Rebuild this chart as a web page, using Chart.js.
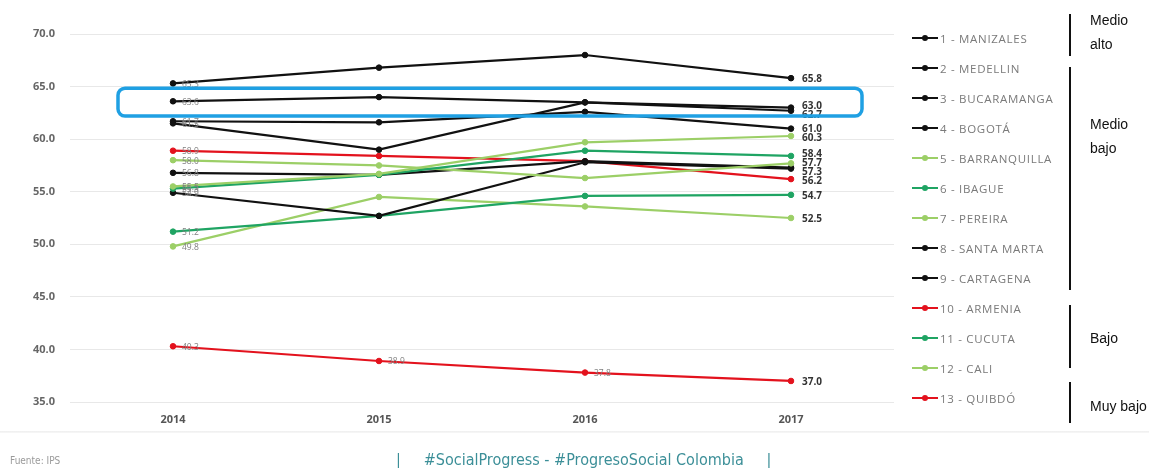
<!DOCTYPE html>
<html>
<head>
<meta charset="utf-8">
<script src="https://cdn.jsdelivr.net/npm/chart.js@4"></script>
<style>
  html, body { margin:0; padding:0; background:#fff; }
  #wrap { position:relative; width:1149px; height:468px; overflow:hidden; font-family:"Open Sans", sans-serif; }
  #chartBox { position:absolute; left:0; top:0; width:1149px; height:468px; }
  .leg { position:absolute; left:912px; height:14px; display:flex; align-items:center; font-family:"Open Sans", sans-serif; font-size:11.5px; color:#7a7a7a; letter-spacing:0.7px; white-space:nowrap; }
  .sym { position:relative; width:26px; height:12px; margin-right:2px; }
  .sym .ln { position:absolute; left:0; top:5px; width:26px; height:2px; }
  .sym .dt { position:absolute; left:10px; top:3px; width:6px; height:6px; border-radius:50%; }
  .bar { position:absolute; left:1069px; width:2px; background:#111; }
  .grp { position:absolute; left:1090px; font-family:"Liberation Sans", Arial, sans-serif; font-size:14px; line-height:24px; color:#111; white-space:nowrap; }
  #src { position:absolute; left:10px; top:455px; font-family:"Liberation Sans Narrow","DejaVu Sans Condensed",sans-serif; font-stretch:condensed; font-size:10px; color:#9a9a9a; }
  #tag { position:absolute; left:396px; top:450px; font-family:"Liberation Sans Narrow","DejaVu Sans Condensed",sans-serif; font-stretch:condensed; font-size:16px; color:#3c8f98; white-space:pre; }
  #sep { position:absolute; left:0; top:431px; width:1149px; height:2px; background:linear-gradient(#eee,#f7f7f7); }
</style>
</head>
<body>
<div id="wrap">
  <div id="chartBox"><canvas id="c"></canvas></div>
  <div id="sep"></div>
  <div id="legend"></div>
  <div class="bar" style="top:14px;height:42px"></div>
  <div class="bar" style="top:67px;height:223px"></div>
  <div class="bar" style="top:305px;height:63px"></div>
  <div class="bar" style="top:382px;height:41px"></div>
  <div class="grp" style="top:8px">Medio<br>alto</div>
  <div class="grp" style="top:112px">Medio<br>bajo</div>
  <div class="grp" style="top:326px">Bajo</div>
  <div class="grp" style="top:394px">Muy bajo</div>
  <div id="src">Fuente: IPS</div>
  <div id="tag">|     #SocialProgress - #ProgresoSocial Colombia     |</div>
</div>
<script>
const years = ['2014', '2015', '2016', '2017'];
const cities = ['1 - MANIZALES','2 - MEDELLIN','3 - BUCARAMANGA','4 - BOGOTÁ','5 - BARRANQUILLA','6 - IBAGUE','7 - PEREIRA','8 - SANTA MARTA','9 - CARTAGENA','10 - ARMENIA','11 - CUCUTA','12 - CALI','13 - QUIBDÓ'];
const manizales    = [65.3, 66.8, 68.0, 65.8];
const medellin     = [63.6, 64.0, 63.5, 63.0];
const bucaramanga  = [61.5, 59.0, 63.5, 62.7];
const bogota       = [61.7, 61.6, 62.6, 61.0];
const barranquilla = [55.5, 56.7, 59.7, 60.3];
const ibague       = [55.3, 56.6, 58.9, 58.4];
const pereira      = [58.0, 57.5, 56.3, 57.7];
const santaMarta   = [56.8, 56.6, 57.9, 57.3];
const cartagena    = [54.9, 52.7, 57.8, 57.2];
const armenia      = [58.9, 58.4, 57.9, 56.2];
const cucuta       = [51.2, 52.7, 54.6, 54.7];
const cali         = [49.8, 54.5, 53.6, 52.5];
const quibdo       = [40.3, 38.9, 37.8, 37.0];
const yTicks = [35, 40, 45, 50, 55, 60, 65, 70];

const seriesValues = [manizales, medellin, bucaramanga, bogota, barranquilla, ibague, pereira, santaMarta, cartagena, armenia, cucuta, cali, quibdo];

const BLACK = '#111111', LGREEN = '#9ccf67', GREEN = '#1fa463', RED = '#e3121d';
const seriesColors = [BLACK, BLACK, BLACK, BLACK, LGREEN, GREEN, LGREEN, BLACK, BLACK, RED, GREEN, LGREEN, RED];

const legEl = document.getElementById('legend');
cities.forEach((name, i) => {
  const d = document.createElement('div');
  d.className = 'leg';
  d.style.top = (31 + i * 30) + 'px';
  d.innerHTML = '<div class="sym"><div class="ln" style="background:' + seriesColors[i] + '"></div><div class="dt" style="background:' + seriesColors[i] + '"></div></div>' + name;
  legEl.appendChild(d);
});

const datasets = seriesValues.map((vals, i) => ({
  label: cities[i],
  data: vals,
  borderColor: seriesColors[i],
  backgroundColor: seriesColors[i],
  pointBackgroundColor: seriesColors[i],
  pointBorderColor: seriesColors[i],
  borderWidth: 2.2,
  pointRadius: 2.8,
  pointBorderWidth: 1,
  tension: 0
}));

const labelPlugin = {
  id: 'valueLabels',
  afterDatasetsDraw(chart) {
    const ctx = chart.ctx;
    const n = chart.data.datasets.length;
    ctx.save();
    ctx.font = '8.5px "Open Sans", sans-serif';
    ctx.fillStyle = '#808080';
    ctx.textAlign = 'left';
    ctx.textBaseline = 'middle';
    for (let d = 0; d < n; d++) {
      const meta = chart.getDatasetMeta(d);
      const idxs = d === n - 1 ? [0, 1, 2] : [0];
      idxs.forEach(k => {
        const p = meta.data[k];
        ctx.fillText(chart.data.datasets[d].data[k].toFixed(1), p.x + 9, p.y + 1);
      });
    }
    const items = [];
    for (let d = 0; d < n; d++) {
      if (d === 8) continue; // overlapped in original
      const meta = chart.getDatasetMeta(d);
      const p = meta.data[3];
      items.push({ y: p.y, x: p.x, t: chart.data.datasets[d].data[3].toFixed(1) });
    }
    items.sort((a, b) => a.y - b.y);
    const gap = 9;
    for (let it = 0; it < 60; it++) {
      for (let i = 1; i < items.length; i++) {
        const ov = gap - (items[i].y - items[i - 1].y);
        if (ov > 0) { items[i].y += ov / 2; items[i - 1].y -= ov / 2; }
      }
    }
    ctx.font = 'bold 10px "Open Sans", sans-serif';
    ctx.fillStyle = '#333';
    items.forEach(o => ctx.fillText(o.t, o.x + 11, o.y + 1));
    const xs = chart.scales.x, ys = chart.scales.y;
    const x0 = xs.getPixelForValue(0) - 55, x1 = xs.getPixelForValue(3) + 71;
    const y0 = ys.getPixelForValue(64.85), y1 = ys.getPixelForValue(62.2);
    ctx.strokeStyle = '#1fa0e3';
    ctx.lineWidth = 3.5;
    ctx.beginPath();
    ctx.roundRect(x0, y0, x1 - x0, y1 - y0, 7);
    ctx.stroke();
    ctx.restore();
  }
};

new Chart(document.getElementById('c'), {
  type: 'line',
  data: { labels: years, datasets },
  options: {
    responsive: true,
    maintainAspectRatio: false,
    animation: false,
    layout: { padding: { top: 34, right: 255, bottom: 36, left: 0 } },
    plugins: { legend: { display: false }, tooltip: { enabled: false } },
    scales: {
      x: {
        offset: true,
        grid: { display: false, drawTicks: false },
        border: { display: false },
        ticks: { padding: 11, color: '#555', font: { family: '"Open Sans", sans-serif', size: 11, weight: 'bold' } },
        afterFit(s) { s.height = 30; }
      },
      y: {
        min: 35, max: 70,
        afterBuildTicks(s) { s.ticks = yTicks.map(v => ({ value: v })); },
        grid: { color: '#e8e8e8', drawTicks: false, lineWidth: 1 },
        border: { display: false },
        ticks: { padding: 15, color: '#666', font: { family: '"Open Sans", sans-serif', size: 11, weight: 'bold' }, callback: v => Number(v).toFixed(1) },
        afterFit(s) { s.width = 70; }
      }
    }
  },
  plugins: [labelPlugin]
});
</script>
</body>
</html>
